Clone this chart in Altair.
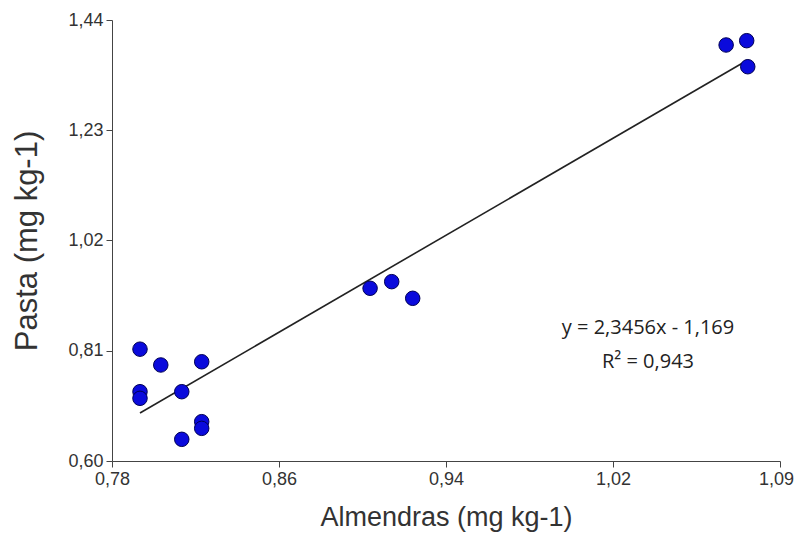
import altair as alt
import pandas as pd

almendras = [0.7932, 0.7932, 0.7932, 0.8030, 0.8129, 0.8223, 0.8223, 0.8223, 0.8129,
             0.9017, 0.9119, 0.9218, 1.0696, 1.0793, 1.0798]
pasta = [0.8130, 0.7320, 0.7194, 0.7829, 0.7320, 0.7890, 0.6749, 0.6622, 0.6413,
         0.9290, 0.9416, 0.9099, 1.3924, 1.4006, 1.3510]

slope = 2.3456
intercept = -1.169
x_ticks = [0.78, 0.85875, 0.9375, 1.01625, 1.095]
y_ticks = [0.60, 0.81, 1.02, 1.23, 1.44]
eq_lines = ["y = 2,3456x - 1,169", "R² = 0,943"]

df = pd.DataFrame({"x": almendras, "y": pasta})
xmin, xmax = min(almendras), max(almendras)
fit = pd.DataFrame({"x": [xmin, xmax], "y": [slope * xmin + intercept, slope * xmax + intercept]})

xscale = alt.Scale(domain=[0.78, 1.095], nice=False, zero=False)
yscale = alt.Scale(domain=[0.60, 1.44], nice=False, zero=False)

common = dict(grid=False, tickSize=6, labelFontSize=18, titleFontWeight="normal", labelPadding=3,
              labelFont="Liberation Sans", titleFont="Liberation Sans",
              labelColor="#333333", titleColor="#333333", domainColor="#444444",
              tickColor="#444444", labelFlush=False,
              labelExpr="replace(format(datum.value, '.2f'), '.', ',')")

xaxis = alt.Axis(values=x_ticks, title="Almendras (mg kg-1)", titleFontSize=27, titlePadding=16,
                 labelOffset={"condition": {"test": "datum.value > 1.09", "value": -4}, "value": 0},
                 **common)
yaxis = alt.Axis(values=y_ticks, title="Pasta (mg kg-1)", titleFontSize=31, titlePadding=24, **common)

points = alt.Chart(df).mark_point(filled=True, size=210, opacity=1, shape="circle",
                                   color="#0A0ADC", stroke="#000055", strokeWidth=1).encode(
    x=alt.X("x:Q", scale=xscale, axis=xaxis),
    y=alt.Y("y:Q", scale=yscale, axis=yaxis),
)

line = alt.Chart(fit).mark_line(color="#222222", strokeWidth=1.6).encode(
    x=alt.X("x:Q", scale=xscale),
    y=alt.Y("y:Q", scale=yscale),
)

eq = alt.Chart(pd.DataFrame({"t": [eq_lines]})).mark_text(
    font="Open Sans", fontSize=20, color="#222222", lineHeight=34, align="center", baseline="middle"
).encode(text="t:N", x=alt.value(536), y=alt.value(308))

chart = alt.layer(line, points, eq).properties(
    width=668, height=441,
    autosize=alt.AutoSizeParams(type="none"),
    padding={"left": 104, "top": 12, "right": 15, "bottom": 72},
).configure_view(stroke=None)

chart.save("out.html", embed_options={"renderer": "svg", "actions": False})
